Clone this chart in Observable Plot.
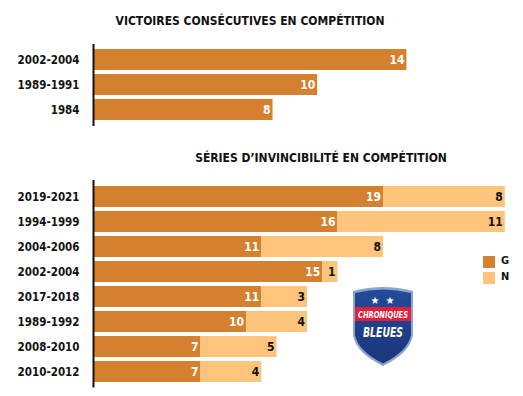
<!DOCTYPE html>
<html>
<head>
<meta charset="utf-8">
<script src="https://cdn.jsdelivr.net/npm/d3@7"></script>
<script src="https://cdn.jsdelivr.net/npm/@observablehq/plot@0.6"></script>
<style>
  html, body { margin: 0; padding: 0; background: #fff; }
  #wrap { position: relative; width: 523px; height: 396px; overflow: hidden;
          font-family: "DejaVu Sans Condensed", "DejaVu Sans", sans-serif; font-weight: bold; color: #111; }
  .title { position: absolute; font-size: 12px; white-space: nowrap; transform: translateX(-50%); letter-spacing: 0; }
  .abs { position: absolute; }
  .sw { position: absolute; width: 12px; height: 12px; }
  .lg { position: absolute; font-size: 11px; }
</style>
</head>
<body>
<div id="wrap">
  <div class="title" style="left:250px; top:14px;">VICTOIRES CONSÉCUTIVES EN COMPÉTITION</div>
  <div id="top" class="abs" style="left:0; top:0;"></div>
  <div class="title" style="left:321px; top:151px;">SÉRIES D’INVINCIBILITÉ EN COMPÉTITION</div>
  <div id="bottom" class="abs" style="left:0; top:140px;"></div>
  <div id="legend"></div>
  <svg class="abs" style="left:350px; top:285px;" width="66" height="84" viewBox="0 0 66 84">
    <defs>
      <linearGradient id="shg" x1="0" y1="0" x2="0" y2="1">
        <stop offset="0" stop-color="#234a9c"/>
        <stop offset="1" stop-color="#1b3678"/>
      </linearGradient>
    </defs>
    <path d="M3 6 Q33 -2 63 6 L63 50 Q60 68 33 81 Q6 68 3 50 Z" fill="#8fa3cf"/>
    <path d="M5 8 Q33 1 61 8 L61 50 Q58 66 33 78.5 Q8 66 5 50 Z" fill="url(#shg)"/>
    <rect x="5" y="22" width="56" height="14" fill="#e0203a"/>
    <text x="25" y="19" fill="#fff" font-size="10" text-anchor="middle" font-family="DejaVu Sans">★</text>
    <text x="40" y="19" fill="#fff" font-size="10" text-anchor="middle" font-family="DejaVu Sans">★</text>
    <text x="33" y="33" fill="#fff" font-size="8.5" text-anchor="middle" font-style="italic" font-weight="bold" font-family="DejaVu Sans Condensed" textLength="50" lengthAdjust="spacingAndGlyphs">CHRONIQUES</text>
    <text x="33" y="52" fill="#fff" font-size="14" text-anchor="middle" font-style="italic" font-weight="bold" font-family="DejaVu Sans Condensed" textLength="40" lengthAdjust="spacingAndGlyphs">BLEUES</text>
  </svg>
</div>
<script>
// ---- data ----
const topCategories = ["2002-2004", "1989-1991", "1984"];
const topValues = [14, 10, 8];

const bottomCategories = ["2019-2021", "1994-1999", "2004-2006", "2002-2004", "2017-2018", "1989-1992", "2008-2010", "2010-2012"];
const gValues = [19, 16, 11, 15, 11, 10, 7, 7];
const nValues = [8, 11, 8, 1, 3, 4, 5, 4];

const seriesNames = ["G", "N"];
const seriesColors = ["#d5802e", "#fec47b"];
const labelColors = ["#ffffff", "#111111"];

const FONT = "'DejaVu Sans Condensed', 'DejaVu Sans', sans-serif";

// ---- top chart ----
const topData = topCategories.map((c, i) => ({cat: c, value: topValues[i]}));
const topPlot = Plot.plot({
  width: 523,
  height: 130,
  marginLeft: 94,
  marginRight: 5,
  marginTop: 44,
  marginBottom: 4,
  style: {fontFamily: FONT, fontWeight: "bold", fontSize: "11px", color: "#111", background: "transparent"},
  x: {domain: [0, 19], axis: null},
  y: {domain: topCategories, padding: 0.154, label: null},
  marks: [
    Plot.barX(topData, {x: "value", y: "cat", fill: seriesColors[0], insetTop: 0, insetBottom: 0}),
    Plot.text(topData, {x: "value", y: "cat", text: d => String(d.value), textAnchor: "end", dx: -2.5, fill: labelColors[0], fontSize: 12, fontWeight: "bold"}),
    Plot.axisY({tickSize: 0, tickPadding: 15, fontSize: 11.5, fontWeight: "bold", label: null}),
    Plot.ruleX([0], {stroke: "#111", strokeWidth: 2, dx: -1})
  ]
});
document.getElementById("top").append(topPlot);

// ---- bottom chart ----
const bottomData = [];
bottomCategories.forEach((c, i) => {
  const g = gValues[i], n = nValues[i];
  bottomData.push({cat: c, series: "G", value: g, x1: 0, x2: g});
  bottomData.push({cat: c, series: "N", value: n, x1: g, x2: g + n});
});
const bottomPlot = Plot.plot({
  width: 523,
  height: 256,
  marginLeft: 94,
  marginRight: 3,
  marginTop: 40,
  marginBottom: 8.5,
  style: {fontFamily: FONT, fontWeight: "bold", fontSize: "11px", color: "#111", background: "transparent"},
  x: {domain: [0, 28], axis: null},
  y: {domain: bottomCategories, padding: 0.17, label: null},
  color: {domain: seriesNames, range: seriesColors},
  marks: [
    Plot.barX(bottomData, {x1: "x1", x2: "x2", y: "cat", fill: "series", insetTop: 0, insetBottom: 0}),
    Plot.text(bottomData, {x: "x2", y: "cat", text: d => String(d.value), textAnchor: "end", dx: -2.5,
      fill: d => labelColors[seriesNames.indexOf(d.series)], fontSize: 12, fontWeight: "bold"}),
    Plot.axisY({tickSize: 0, tickPadding: 15, fontSize: 11.5, fontWeight: "bold", label: null}),
    Plot.ruleX([0], {stroke: "#111", strokeWidth: 2, dx: -1})
  ]
});
document.getElementById("bottom").append(bottomPlot);

// ---- legend ----
const legend = document.getElementById("legend");
seriesNames.forEach((s, i) => {
  const sw = document.createElement("div");
  sw.className = "sw";
  sw.style.left = "483px";
  sw.style.top = (256 + i * 16) + "px";
  sw.style.background = seriesColors[i];
  legend.append(sw);
  const t = document.createElement("div");
  t.className = "lg";
  t.style.left = "501px";
  t.style.top = (254 + i * 16) + "px";
  t.textContent = s;
  legend.append(t);
});
</script>
</body>
</html>
